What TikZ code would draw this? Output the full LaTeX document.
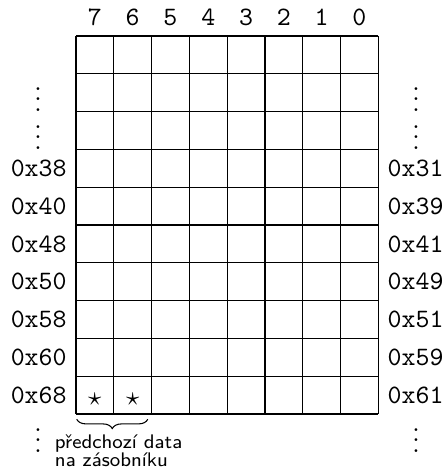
\documentclass[tikz,border=0pt]{standalone}
\usepackage{tikz}
\usetikzlibrary{decorations.pathreplacing}

\begin{document}
\begin{tikzpicture}[font=\ttfamily,
  addr/.style={inner sep=3.33pt},
  dotsnode/.style={anchor=base,inner sep=0pt,font=\normalfont}]
\useasboundingbox (-1.005,0.476) rectangle (4.908,-5.728);
\foreach \k in {0,...,8}
  \draw (0.5*\k,0) -- (0.5*\k,-5);
\foreach \k in {0,...,10}
  \draw (0,-0.5*\k) -- (4,-0.5*\k);
% bit numbers
\foreach \b [count=\k from 0] in {7,6,5,4,3,2,1,0}
  \node[anchor=base,inner sep=0pt] (c\b) at (0.25+0.5*\k,0.145) {\b};
% addresses
\foreach \l/\r [count=\n from 3] in {38/31,40/39,48/41,50/49,58/51,60/59,68/61} {
  \node[addr,left] (l\n) at (0,-0.25-0.5*\n) {0x\l};
  \node[addr,right] (r\n) at (4,-0.25-0.5*\n) {0x\r};
}
\node[dotsnode] (ld1) at (-0.5,-1.0) {$\vdots$};
\node[dotsnode] (ld2) at (-0.5,-1.5) {$\vdots$};
\node[dotsnode] (rd1) at (4.5,-1.0) {$\vdots$};
\node[dotsnode] (rd2) at (4.5,-1.5) {$\vdots$};
\node[dotsnode] (ld3) at (-0.5,-5.51) {$\vdots$};
\node[dotsnode] (rd3) at (4.5,-5.51) {$\vdots$};
\node (s7) at (0.25,-4.81) {$\star$};
\node (s6) at (0.75,-4.81) {$\star$};
\coordinate (bl) at (0.01,-5.07);
\coordinate (br) at (0.95,-5.07);
\draw[decorate,decoration={brace,amplitude=3.5pt}] (br) -- (bl);
\node[anchor=north west,inner sep=0pt,align=left,
  font=\fontsize{7.4}{7}\selectfont\sffamily] (prev) at (-0.285,-5.262)
  {předchozí data\\na zásobníku};
\end{tikzpicture}
\end{document}
